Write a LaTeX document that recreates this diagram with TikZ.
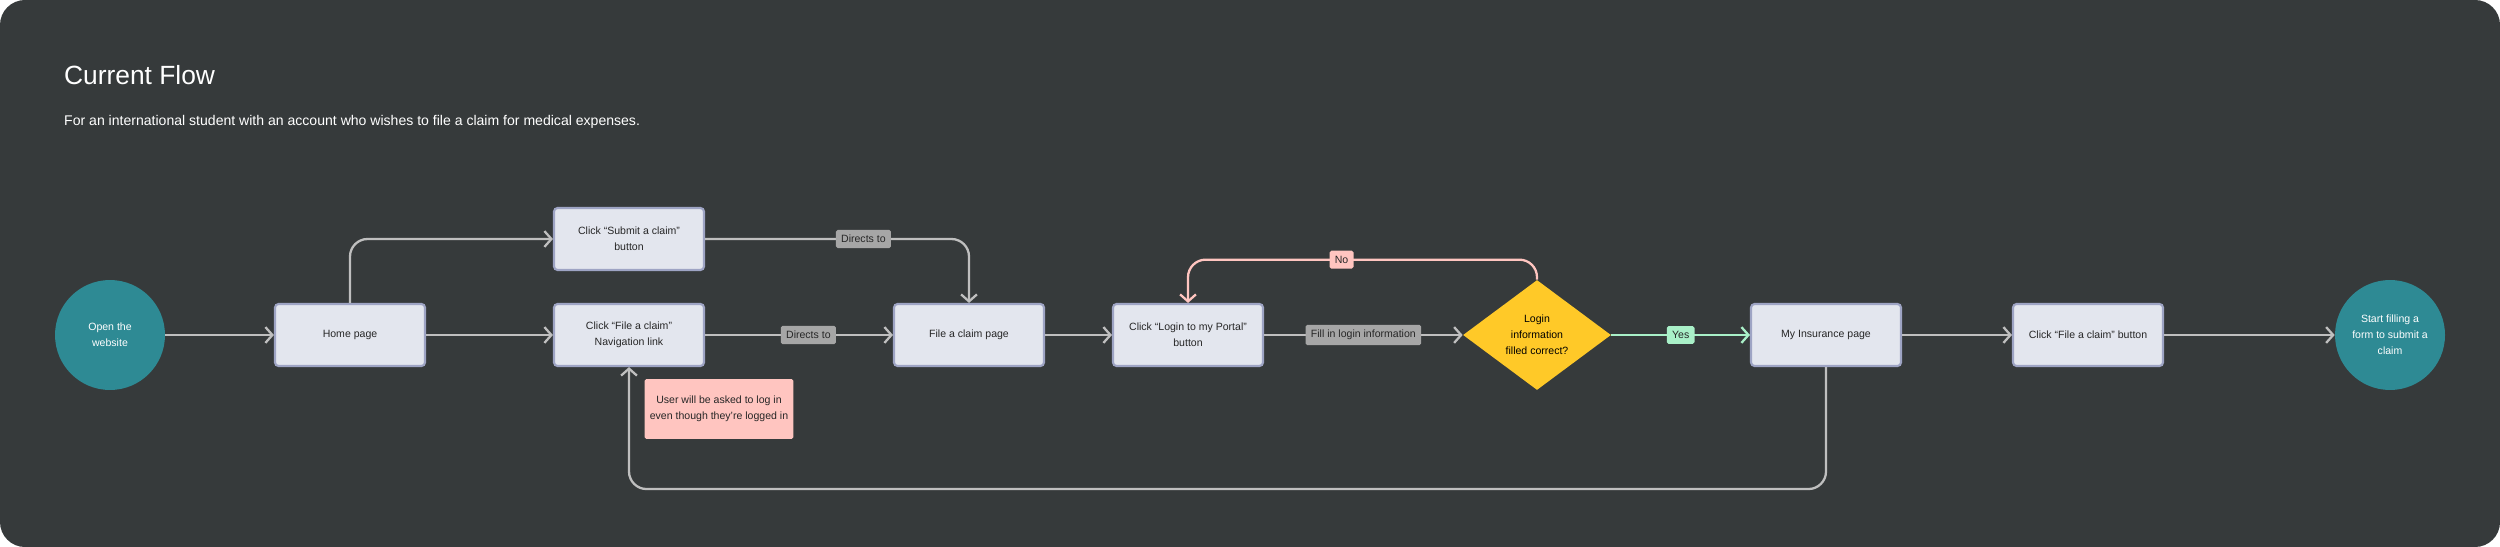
\documentclass[tikz,border=0pt]{standalone}
\usepackage{fontspec}
\setmainfont{Liberation Sans}
\usetikzlibrary{shapes.geometric,arrows.meta}
\definecolor{boardbg}{HTML}{363A3B}
\definecolor{boxfill}{HTML}{E3E6EE}
\definecolor{boxline}{HTML}{9EA4C4}
\definecolor{tealc}{HTML}{2E8A94}
\definecolor{yellowc}{HTML}{FFC928}
\definecolor{tagc}{HTML}{A6A6A6}
\definecolor{pinkc}{HTML}{FFC5C0}
\definecolor{greenc}{HTML}{A9F0C8}
\definecolor{flowc}{HTML}{BFBFBF}
\begin{document}
\begin{tikzpicture}[x=0.02cm, y=-0.02cm, >={Straight Barb[length=4pt,width=9pt]},
    page/.style={draw=boxline, line width=1.2pt, fill=boxfill, rounded corners=2pt, minimum width=3cm, minimum height=1.24cm, align=center, font=\fontsize{6}{9}\selectfont, text=black!85},
    term/.style={circle, fill=tealc, minimum size=2.2cm, align=center, text=white, font=\fontsize{6}{9}\selectfont},
    tag/.style={fill=#1, rounded corners=1pt, inner sep=3pt, font=\fontsize{6}{8}\selectfont, text=black!85},
    flow/.style={->, draw=flowc, line width=1.3pt, rounded corners=10pt}]
    \fill[white] (0,0) rectangle (2500,547);
    \fill[boardbg, rounded corners=0.5cm] (0,0) rectangle (2500,547);
    \node[anchor=west, text=white, font=\fontsize{15}{18}\selectfont] (title) at (58,75) {Current Flow};
    \node[anchor=west, text=white, font=\fontsize{8}{10}\selectfont] (subtitle) at (58,122) {For an international student with an account who wishes to file a claim for medical expenses.};
    % main row
    \node[term] (start) at (110,335) {Open the\\website};
    \node[page] (home) at (350,335) {Home page};
    \node[page] (submit) at (629,239) {Click “Submit a claim”\\button};
    \node[page] (navlink) at (629,335) {Click “File a claim”\\Navigation link};
    \node[page] (claimpage) at (969,335) {File a claim page};
    \node[page] (portal) at (1188,335) {Click “Login to my Portal”\\button};
    \node[diamond, fill=yellowc, minimum width=2.96cm, minimum height=2.2cm, inner sep=0pt, align=center, font=\fontsize{6}{9}\selectfont] (check) at (1537,335) {Login\\information\\filled correct?};
    \node[page] (insurance) at (1826,335) {My Insurance page};
    \node[page] (button) at (2088,335) {Click “File a claim” button};
    \node[term] (finish) at (2390,335) {Start filling a\\form to submit a\\claim};
    \node[tag=pinkc, minimum width=2.98cm, minimum height=1.2cm, align=center, font=\fontsize{6}{9}\selectfont] (note) at (719,409) {User will be asked to log in\\even though they’re logged in};
    % connectors
    \draw[flow] (start) -- (home);
    \draw[flow] (home) -- (navlink);
    \draw[flow] (home.north) |- (submit.west);
    \draw[flow] (submit.east) -| node[pos=0.3, tag=tagc] (direct1) {Directs to} (claimpage.north);
    \draw[flow] (navlink) -- node[pos=0.55, tag=tagc] (direct2) {Directs to} (claimpage);
    \draw[flow] (claimpage) -- (portal);
    \draw[flow] (portal) -- node[tag=tagc] (fillin) {Fill in login information} (check);
    \draw[flow, draw=greenc] (check) -- node[tag=greenc] (yes) {Yes} (insurance);
    \draw[flow, draw=pinkc] (check.north) -- ++(0,-20) -| node[pos=0.28, tag=pinkc] (no) {No} (portal.north);
    \draw[flow] (insurance) -- (button);
    \draw[flow] (button) -- (finish);
    \draw[flow] (insurance.south) -- ++(0,122) -| (navlink.south);
\end{tikzpicture}
\end{document}
